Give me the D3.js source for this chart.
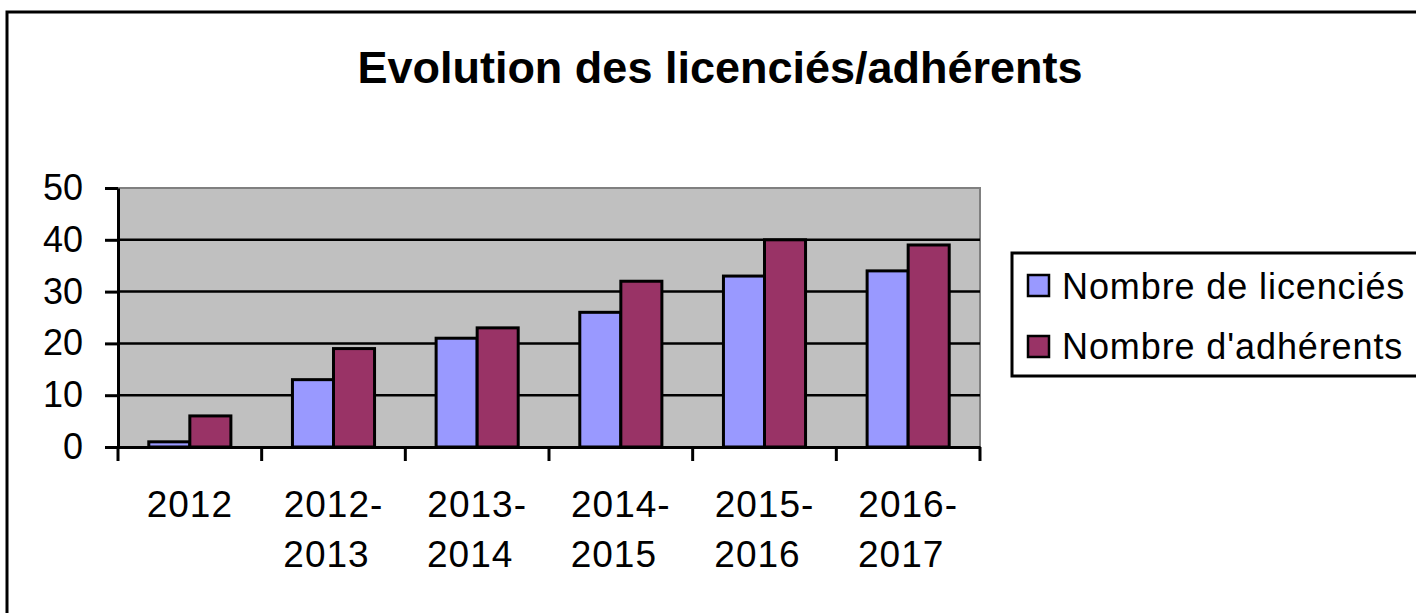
<!DOCTYPE html>
<html>
<head>
<meta charset="utf-8">
<script src="https://d3js.org/d3.v7.min.js"></script>
<style>
  body { margin: 0; background: #fff; }
  text { font-family: "Liberation Sans", Arial, sans-serif; fill: #000; }
  #title { font-size: 45px; font-weight: bold; }
  .tick text { font-size: 37px; }
  .legend_label { font-size: 36px; letter-spacing: 0.9px; }
</style>
</head>
<body>
<div id="chart"></div>
<script>
// data
var categories = ["2012", "2012-2013", "2013-2014", "2014-2015", "2015-2016", "2016-2017"];
var licencies  = [1, 13, 21, 26, 33, 34];
var adherents  = [6, 19, 23, 32, 40, 39];
var seriesNames = ["Nombre de licenciés", "Nombre d'adhérents"];
var yTicks = [0, 10, 20, 30, 40, 50];

var colors = ["#9999FF", "#993366"];

var width = 1416, height = 613;
var plot = {left: 118, right: 980, top: 188, bottom: 447};

var svg = d3.select("#chart")
            .append("svg")
            .attr("width", width)
            .attr("height", height);

// outer frame (runs off the right/bottom edge)
svg.append("rect")
   .attr("x", 7).attr("y", 12)
   .attr("width", width + 20).attr("height", height + 20)
   .attr("fill", "#fff")
   .attr("stroke", "#000")
   .attr("stroke-width", 3);

// title
svg.append("text")
   .attr("id", "title")
   .attr("x", 720)
   .attr("y", 83)
   .attr("text-anchor", "middle")
   .text("Evolution des licenciés/adhérents");

// scales
var yScale = d3.scaleLinear()
               .domain([0, 50])
               .range([plot.bottom, plot.top]);

var x0 = d3.scaleBand()
           .domain(categories)
           .range([plot.left, plot.right])
           .padding(0);

var x1 = d3.scaleBand()
           .domain([0, 1])
           .range([0, x0.bandwidth()])
           .paddingInner(0)
           .paddingOuter(0.75);

// plot area background
svg.append("rect")
   .attr("x", plot.left).attr("y", plot.top)
   .attr("width", plot.right - plot.left)
   .attr("height", plot.bottom - plot.top)
   .attr("fill", "#C0C0C0");

// top/right border of plot area
svg.append("path")
   .attr("d", "M" + plot.left + "," + plot.top + "H" + plot.right + "V" + plot.bottom)
   .attr("fill", "none")
   .attr("stroke", "#808080")
   .attr("stroke-width", 2);

// gridlines
svg.append("g")
   .selectAll("line")
   .data(yTicks.filter(function(d){ return d > 0 && d < 50; }))
   .enter().append("line")
   .attr("x1", plot.left).attr("x2", plot.right)
   .attr("y1", function(d){ return yScale(d); })
   .attr("y2", function(d){ return yScale(d); })
   .attr("stroke", "#000")
   .attr("stroke-width", 2.5);

// bars
var rows = categories.map(function(c, i){
  return {cat: c, vals: [licencies[i], adherents[i]]};
});

var groups = svg.selectAll(".grp")
                .data(rows)
                .enter().append("g")
                .attr("class", "grp")
                .attr("transform", function(d){ return "translate(" + x0(d.cat) + ",0)"; });

groups.selectAll("rect")
      .data(function(d){ return d.vals.map(function(v, k){ return {k: k, v: v}; }); })
      .enter().append("rect")
      .attr("x", function(d){ return x1(d.k); })
      .attr("width", x1.bandwidth())
      .attr("y", function(d){ return yScale(d.v); })
      .attr("height", function(d){ return yScale(0) - yScale(d.v); })
      .attr("fill", function(d){ return colors[d.k]; })
      .attr("stroke", "#000")
      .attr("stroke-width", 3);

// Y axis
var yAxis = d3.axisLeft(yScale)
              .tickValues(yTicks)
              .tickSize(13)
              .tickPadding(22)
              .tickSizeOuter(0);

var gy = svg.append("g")
   .attr("transform", "translate(" + plot.left + ",0)")
   .call(yAxis);
gy.select(".domain").attr("stroke-width", 3);
gy.selectAll(".tick line").attr("stroke-width", 3);
gy.selectAll(".tick text").attr("dy", "0.32em").style("font-size", "36px");

// X axis (ticks at category boundaries)
var xAxis = d3.axisBottom(x0).tickSize(0).tickSizeOuter(0);
var gx = svg.append("g")
   .attr("transform", "translate(0," + plot.bottom + ")")
   .call(xAxis);
gx.select(".domain").attr("stroke-width", 3);

gx.selectAll(".bound")
  .data(categories.concat(["end"]))
  .enter().append("line")
  .attr("x1", function(d, i){ return i < categories.length ? x0(d) : plot.right; })
  .attr("x2", function(d, i){ return i < categories.length ? x0(d) : plot.right; })
  .attr("y1", 0).attr("y2", 14)
  .attr("stroke", "#000")
  .attr("stroke-width", 3);

gx.selectAll(".tick text").each(function(d){
  var t = d3.select(this);
  var parts = d.indexOf("-") > 0 ? [d.split("-")[0] + "-", d.split("-")[1]] : [d];
  t.text(null).attr("y", 0).attr("dy", null).style("letter-spacing", "1px");
  parts.forEach(function(p, i){
    t.append("tspan")
     .attr("x", i == 0 ? 0 : -7)
     .attr("y", 70 + i * 50)
     .text(p);
  });
});

// legend
svg.append("rect")
   .attr("x", 1012).attr("y", 253)
   .attr("width", 420).attr("height", 123)
   .attr("fill", "#fff")
   .attr("stroke", "#000")
   .attr("stroke-width", 3);

var legend = svg.selectAll(".legend")
                .data(seriesNames)
                .enter().append("g")
                .attr("class", "legend");

legend.append("rect")
  .attr("x", 1028)
  .attr("y", function(d, i){ return 275 + i * 61; })
  .attr("width", 21).attr("height", 21)
  .attr("fill", function(d, i){ return colors[i]; })
  .attr("stroke", "#000")
  .attr("stroke-width", 2.5);

legend.append("text")
  .attr("class", "legend_label")
  .attr("x", 1062)
  .attr("y", function(d, i){ return 299 + i * 60; })
  .text(function(d){ return d; });
</script>
</body>
</html>
